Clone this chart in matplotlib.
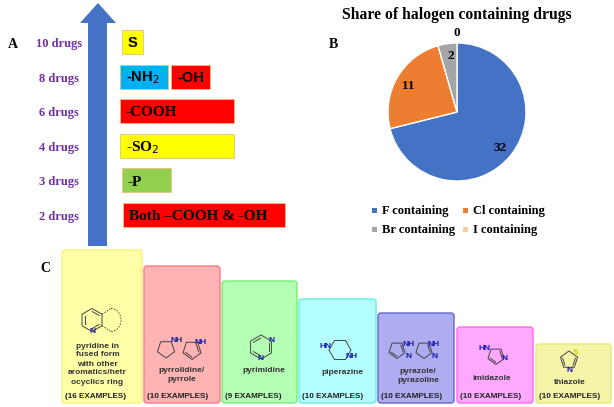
import numpy as np
import matplotlib.pyplot as plt
from matplotlib.patches import Rectangle, FancyBboxPatch, Polygon, Wedge, Arc

# ---- panel A data
drug_counts = ["10 drugs", "8 drugs", "6 drugs", "4 drugs", "3 drugs", "2 drugs"]
groups = [["S"], ["-NH$_2$", "-OH"], ["-COOH"], ["-SO$_2$"], ["-P"], ["Both \u2013COOH & -OH"]]
group_colors = [["#FFFF00"], ["#00B0F0", "#FF0000"], ["#FF0000"], ["#FFFF00"], ["#92D050"], ["#FF0000"]]

# ---- panel B data
halogens = ["F containing", "Cl containing", "Br containing", "I containing"]
halogen_counts = [32, 11, 2, 0]
halogen_colors = ["#4472C4", "#ED7D31", "#A5A5A5", "#F8CBA0"]

# ---- panel C data
rings = ["pyridine in\nfused form\nwith other\naromatics/hetr\nocyclics ring",
         "pyrrolidine/\npyrrole", "pyrimidine", "piperazine",
         "pyrazole/\npyrazoline", "imidazole", "thiazole"]
ring_examples = [16, 10, 9, 10, 10, 10, 10]
ring_fill = ["#FFFFA8", "#FFB3B3", "#B3FFB3", "#B3FFFF", "#ADADF0", "#FFA8FF", "#F5F5A8"]
ring_edge = ["#FFEE77", "#FF7788", "#77EE77", "#66EEDD", "#6666CC", "#FF66EE", "#E8E877"]

SERIF = "Liberation Serif"
SANS = "Liberation Sans"

fig = plt.figure(figsize=(6.14, 4.07), dpi=100)
ax = fig.add_axes([0, 0, 1, 1])
ax.set_xlim(0, 614)
ax.set_ylim(407, 0)
ax.axis("off")

# ---------- panel A
ax.text(8, 44, "A", fontsize=10, fontweight="bold", family=SERIF, va="center")
ax.add_patch(Polygon([(88, 246), (88, 23), (80, 23), (98, 3), (116, 23), (107, 23), (107, 246)],
                     closed=True, fc="#4472C4", ec="none"))

row_y = [42, 77, 111, 146, 180, 215]
box_x = [[122], [120, 171], [120], [120], [122], [123]]
box_w = [[21], [48, 39], [114], [114], [49], [162]]
for i, label in enumerate(drug_counts):
    ax.text(59, row_y[i] + 2, label, fontsize=9, fontweight="bold", family=SERIF,
            color="#7030A0", ha="center", va="center")
    for j, g in enumerate(groups[i]):
        ax.add_patch(Rectangle((box_x[i][j], row_y[i] - 12), box_w[i][j], 24,
                               fc=group_colors[i][j], ec="#E8C080", lw=0.6))
        sans = g in ("S", "-NH$_2$", "-OH")
        ax.text(box_x[i][j] + 6, row_y[i] + (1 if sans else 2), g,
                fontsize=10.5 if sans else 11, fontweight="bold",
                family=SANS if sans else SERIF, ha="left", va="center")

# ---------- panel B
ax.text(329, 44, "B", fontsize=10, fontweight="bold", family=SERIF, va="center")
ax.text(457, 15, "Share of halogen containing drugs", fontsize=11.3, fontweight="bold",
        family=SERIF, ha="center", va="center")
cx, cy, r = 457, 112, 69
total = sum(halogen_counts)
ang = 90.0
label_pos = [(500, 148), (408, 86), (451, 56), (457, 33)]
for k, v in enumerate(halogen_counts):
    span = 360.0 * v / total
    # y axis is inverted, so angles go the other way visually
    if v > 0:
        ax.add_patch(Wedge((cx, cy), r, -ang, -ang + span, fc=halogen_colors[k],
                           ec="white", lw=1))
    ang -= span
    ax.text(label_pos[k][0], label_pos[k][1], str(v), fontsize=9.5, fontweight="bold",
            family=SERIF, ha="center", va="center")

leg_xy = [(374, 210), (465, 210), (374, 229), (465, 229)]
for k, name in enumerate(halogens):
    mx, my = leg_xy[k]
    ax.add_patch(Rectangle((mx - 2.5, my - 2.5), 5, 5, fc=halogen_colors[k], ec="none"))
    ax.text(mx + 8, my + 1, name, fontsize=9, fontweight="bold", family=SERIF,
            ha="left", va="center")

# ---------- panel C
ax.text(40, 268, "C", fontsize=10, fontweight="bold", family=SERIF, va="center")
col_x = [61, 143, 221, 298, 377, 456, 535]
col_w = [82, 78, 77, 79, 78, 78, 77]
col_top = [249, 265, 280, 298, 312, 326, 343]
name_x = [97.5, 182, 264, 342, 418, 492, 570]
name_y = [364, 375, 371, 372, 376, 378, 383]
for k in range(len(rings)):
    ax.add_patch(FancyBboxPatch((col_x[k] + 1, col_top[k] + 1), col_w[k] - 2, 404 - col_top[k] - 2,
                                boxstyle="round,pad=0,rounding_size=3",
                                fc=ring_fill[k], ec=ring_edge[k], lw=1))
    ax.text(col_x[k] + 4, 396.5, f"({ring_examples[k]} EXAMPLES)", fontsize=5.9, fontweight="bold",
            family=SANS, color="#222222", ha="left", va="center")
    ax.text(name_x[k], name_y[k], rings[k], fontsize=6, fontweight="bold", family=SANS,
            color="#333333", ha="center", va="center", linespacing=1.4)


def ring(cx, cy, rad, n, rot=0, dbl=()):
    a = np.deg2rad(rot + 90 + np.arange(n) * 360.0 / n)
    xs = cx + rad * np.cos(a)
    ys = cy - rad * np.sin(a)
    ax.add_patch(Polygon(np.c_[xs, ys], closed=True, fill=False, ec="#444444", lw=0.7))
    for d in dbl:
        x1, y1, x2, y2 = xs[d], ys[d], xs[(d + 1) % n], ys[(d + 1) % n]
        mx, my = (x1 + x2) / 2, (y1 + y2) / 2
        sx, sy = (cx - mx) * 0.25, (cy - my) * 0.25
        ax.plot([x1 + (x2 - x1) * 0.15 + sx, x2 - (x2 - x1) * 0.15 + sx],
                [y1 + (y2 - y1) * 0.15 + sy, y2 - (y2 - y1) * 0.15 + sy],
                color="#444444", lw=0.7)
    return xs, ys


def atom(x, y, s, color="#1A1AB0"):
    ax.text(x, y, s, fontsize=6, fontweight="bold", family=SANS, color=color,
            ha="center", va="center")


# pyridine fused
ring(92, 320, 11.5, 6, rot=0, dbl=(1, 3, 5))
ax.add_patch(Arc((111, 320), 20, 23, theta1=-90, theta2=90, ls=(0, (1.5, 1.5)), ec="#444444", lw=0.7))
ax.plot([102, 111], [314.2, 308.5], ls=(0, (1.5, 1.5)), color="#444444", lw=0.7)
ax.plot([102, 111], [325.8, 331.5], ls=(0, (1.5, 1.5)), color="#444444", lw=0.7)
atom(92.5, 331.5, "N")
# pyrrolidine / pyrrole
ring(166, 349, 9, 5, rot=-36)
atom(177, 341, "NH")
ring(192, 350, 9.5, 5, rot=-36, dbl=(2, 4))
atom(201, 342, "NH")
# pyrimidine
ring(261, 347, 12, 6, rot=0, dbl=(0, 2, 4))
atom(271.5, 341, "N")
atom(261, 359, "N")
# piperazine
ring(340, 350, 11, 6, rot=30)
atom(326, 346, "HN")
atom(352, 357, "NH")
# pyrazole / pyrazoline
ring(397, 350, 8.5, 5, rot=36, dbl=(1, 3))
atom(409, 344, "NH")
atom(409, 356, "N")
ring(424, 350, 8.5, 5, rot=36, dbl=(3,))
atom(434, 344, "NH")
atom(435, 356, "N")
# imidazole
ring(496, 356, 8.5, 5, rot=36, dbl=(1, 3))
atom(485, 348, "HN")
atom(505, 358, "N")
# thiazole
ring(569, 360, 9, 5, rot=0, dbl=(1, 3))
atom(576, 352, "S", color="#CCCC00")
atom(570, 371, "N")

fig.savefig("out.png", dpi=100)
